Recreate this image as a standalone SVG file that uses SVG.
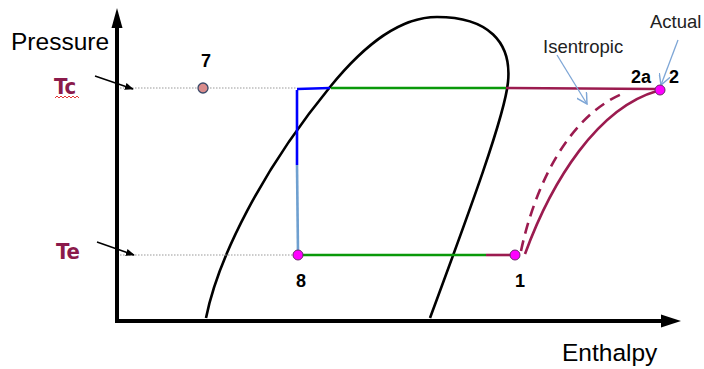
<svg xmlns="http://www.w3.org/2000/svg" width="704" height="369" viewBox="0 0 704 369">
<defs>
<style>
.lbl{font-family:"Liberation Sans",Arial,sans-serif;fill:#000}
.num{font-family:"Liberation Sans",Arial,sans-serif;font-weight:bold;font-size:18px;fill:#000}
.tlab{font-family:"DejaVu Sans Condensed","Liberation Sans",sans-serif;font-weight:bold;font-size:22px;fill:#8B1A4B}
.note{font-family:"Liberation Sans",Arial,sans-serif;font-size:18.5px;fill:#222}
.dot{stroke:#999;stroke-width:1.2;stroke-dasharray:1.5 1.5;fill:none}
.red{stroke:#9B1B4F;stroke-width:2.6;fill:none}
.grn{stroke:#0A990A;stroke-width:2.6;fill:none}
.pt{fill:#FF00FF;stroke:#6a2a6a;stroke-width:1}
</style>
<marker id="ah" viewBox="0 0 10 10" refX="9" refY="5" markerWidth="9" markerHeight="9" markerUnits="userSpaceOnUse" orient="auto">
<path d="M0,1 L10,5 L0,9 z" fill="#000"/>
</marker>
<marker id="oa" viewBox="0 0 10 10" refX="9" refY="5" markerWidth="12" markerHeight="12" markerUnits="userSpaceOnUse" orient="auto">
<path d="M0,0 L9,5 L0,10" fill="none" stroke="#7EA6D6" stroke-width="1.2"/>
</marker>
</defs>
<rect width="704" height="369" fill="#fff"/>
<g id="axes">
<line x1="117" y1="321" x2="117" y2="26" stroke="#000" stroke-width="4"/>
<path d="M111.5,28 L117,8 L122.5,28 z" fill="#000"/>
<line x1="115" y1="321" x2="663" y2="321" stroke="#000" stroke-width="4"/>
<path d="M661,314.5 L681,321 L661,327.5 z" fill="#000"/>
<text class="lbl" x="11" y="50" font-size="24.5">Pressure</text>
<text class="lbl" x="562" y="361" font-size="24.5">Enthalpy</text>
</g>
<g id="dome">
<path d="M206,318 C218,258 262,170 330,87 C365,44 400,17 437,17 C488,17 512,42 508,82 C505,115 470,210 430,318" fill="none" stroke="#000" stroke-width="2.6"/>
</g>
<g id="connectors">
<line class="dot" x1="120" y1="88" x2="297" y2="88"/>
<line class="dot" x1="120" y1="255" x2="296" y2="255"/>
<line x1="95" y1="76" x2="133" y2="89" stroke="#000" stroke-width="1.5" marker-end="url(#ah)"/>
<line x1="97" y1="242" x2="134" y2="255" stroke="#000" stroke-width="1.5" marker-end="url(#ah)"/>
<line x1="297" y1="89" x2="330" y2="88" stroke="#0000FF" stroke-width="2.6"/>
<line x1="297" y1="90" x2="297" y2="165" stroke="#0000FF" stroke-width="2.6"/>
<line x1="297" y1="165" x2="298" y2="253" stroke="#6FA0D0" stroke-width="2.6"/>
<line class="grn" x1="331" y1="88" x2="506" y2="88"/>
<line class="red" x1="506" y1="88" x2="656" y2="89"/>
<line class="grn" x1="300" y1="255" x2="486" y2="255"/>
<line class="red" x1="486" y1="255" x2="512" y2="255"/>
<path class="red" d="M525,254 C552,180 598,108 657,91"/>
<path class="red" d="M521,251 C534,190 566,118 622,94" stroke-dasharray="11 7"/>
<line x1="557" y1="55" x2="587" y2="104" stroke="#7EA6D6" stroke-width="1.3" marker-end="url(#oa)"/>
<line x1="678" y1="40" x2="661" y2="85" stroke="#7EA6D6" stroke-width="1.3" marker-end="url(#oa)"/>
</g>
<g id="Tc">
<text class="tlab" x="54" y="94">Tc</text>
<path d="M55,98 l2,-2 l2,2 l2,-2 l2,2 l2,-2 l2,2 l2,-2 l2,2 l2,-2 l2,2 l2,-2 l2,2" fill="none" stroke="#E02020" stroke-width="0.9"/>
</g>
<g id="Te">
<text class="tlab" x="56" y="259">Te</text>
</g>
<g id="p7">
<circle cx="203" cy="88" r="5" fill="#D98C8C" stroke="#3a4a6a" stroke-width="1.3"/>
<text class="num" x="206" y="67" text-anchor="middle">7</text>
</g>
<g id="p8">
<circle class="pt" cx="298" cy="255" r="5"/>
<text class="num" x="301" y="287" text-anchor="middle">8</text>
</g>
<g id="p1">
<circle class="pt" cx="515" cy="255" r="5"/>
<text class="num" x="520" y="287" text-anchor="middle">1</text>
</g>
<g id="p2">
<circle class="pt" cx="660" cy="90" r="5"/>
<text class="num" x="631" y="83">2a</text>
<text class="num" x="669" y="83">2</text>
</g>
<g id="labels">
<text class="note" x="543" y="53">Isentropic</text>
<text class="note" x="650" y="28">Actual</text>
</g>
</svg>
